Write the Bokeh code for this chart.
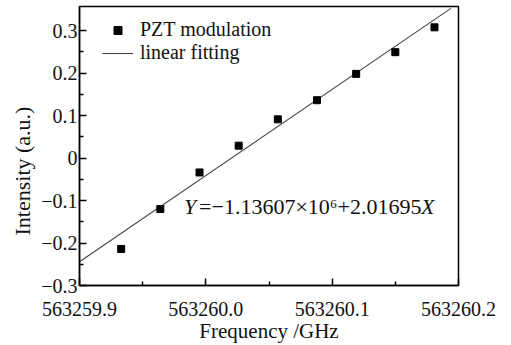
import numpy as np
from bokeh.plotting import figure
from bokeh.models import (FixedTicker, CustomJSTickFormatter, Legend, LegendItem,
                          Label, Range1d, Title)
from bokeh.embed import file_html
from bokeh.resources import INLINE

# ---- data ----
freq = [563259.933, 563259.964, 563259.995, 563260.026, 563260.057,
        563260.088, 563260.119, 563260.150, 563260.181]
intensity = [-0.214, -0.120, -0.034, 0.029, 0.091, 0.136, 0.198, 0.249, 0.3075]
fit_freq = [563259.9, 563260.194]
fit_intensity = [-0.244, 0.352]
x_ticks = [563259.9, 563260.0, 563260.1, 563260.2]
x_minor = [563259.95, 563260.05, 563260.15]
y_ticks = [-0.3, -0.2, -0.1, 0.0, 0.1, 0.2, 0.3]
y_minor = [-0.25, -0.15, -0.05, 0.05, 0.15, 0.25]
legend_labels = ["PZT modulation", "linear fitting"]
eq_parts = ["Y", "=\u22121.13607\u00d710\u2076+2.01695", "X"]
x_title = "Frequency /GHz"
y_title = "Intensity (a.u.)"

FONT = "Liberation Serif"
FS = "20px"
TXT = "#111111"

p = figure(width=511, height=345, output_backend="svg", toolbar_location=None,
           x_range=Range1d(563259.9, 563260.2), y_range=Range1d(-0.3, 0.3565),
           min_border_left=79, min_border_right=53, min_border_top=6,
           min_border_bottom=60)
p.grid.visible = False
p.outline_line_color = "black"
p.outline_line_width = 1.5
p.background_fill_color = "white"
p.border_fill_color = "white"

fmt = CustomJSTickFormatter(code="""
    if (Math.abs(tick) < 1e-9) { return "0"; }
    return tick.toFixed(1).replace("-", "\\u2212");
""")

for ax, ticks, minor in ((p.xaxis[0], x_ticks, x_minor), (p.yaxis[0], y_ticks, y_minor)):
    ax.ticker = FixedTicker(ticks=ticks, minor_ticks=minor)
    ax.formatter = fmt
    ax.axis_line_color = "black"
    ax.axis_line_width = 1.5
    ax.major_tick_in = 7
    ax.major_tick_out = 0
    ax.minor_tick_in = 4
    ax.minor_tick_out = 0
    ax.major_tick_line_width = 1.5
    ax.minor_tick_line_width = 1.5
    ax.major_tick_line_color = "black"
    ax.minor_tick_line_color = "black"
    ax.major_label_text_font = FONT
    ax.major_label_text_font_size = FS
    ax.major_label_text_color = TXT

p.xaxis.major_label_standoff = 16
p.yaxis.major_label_standoff = 2
p.xaxis.axis_label = x_title
p.xaxis.axis_label_text_font = FONT
p.xaxis.axis_label_text_font_size = "21px"
p.xaxis.axis_label_text_font_style = "normal"
p.xaxis.axis_label_text_color = TXT
p.xaxis.axis_label_standoff = 0

p.add_layout(Title(text=y_title, align="left", offset=50, standoff=8,
                   text_font=FONT, text_font_size="22px", text_font_style="normal",
                   text_color=TXT), "left")

line_r = p.line(fit_freq, fit_intensity, line_color="#444444", line_width=1.1)
pts_r = p.scatter(freq, intensity, marker="square", size=7, fill_color="black",
                  line_color="black")

legend = Legend(items=[LegendItem(label=legend_labels[0], renderers=[pts_r]),
                       LegendItem(label=legend_labels[1], renderers=[line_r])],
                location=(23, 221), padding=0, margin=0, spacing=-5,
                glyph_width=31, glyph_height=20, label_standoff=7,
                label_text_font=FONT, label_text_font_size=FS,
                label_text_color=TXT,
                border_line_color=None, background_fill_alpha=0)
p.add_layout(legend, "center")

# equation
eq_x, eq_y = 563259.9828, -0.113
offsets = [0, 15, 237]
styles = ["italic", "normal", "italic"]
for txt, off, st in zip(eq_parts, offsets, styles):
    p.add_layout(Label(x=eq_x, y=eq_y, x_offset=off, text=txt, text_font=FONT,
                       text_font_size="22px", text_font_style=st, text_color=TXT,
                       text_baseline="alphabetic"))

open("out.html", "w").write(file_html(p, INLINE))
